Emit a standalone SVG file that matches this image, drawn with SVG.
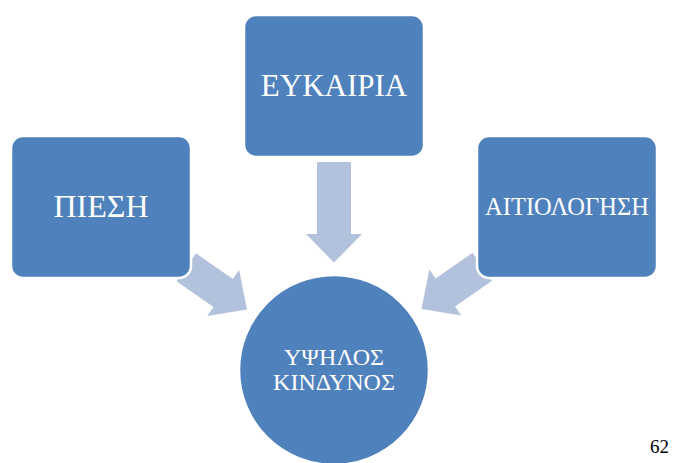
<svg xmlns="http://www.w3.org/2000/svg" width="686" height="463" viewBox="0 0 686 463">
  <defs>
    <style>
      .node { fill: #4F81BD; stroke: #FFFFFF; stroke-width: 2.5; }
      .arrow { fill: #B2C1DC; stroke: none; }
      .lbl { fill: #FFFFFF; font-family: 'Liberation Serif', 'Times New Roman', serif; text-anchor: middle; }
      .page { fill: #000000; font-family: 'Liberation Serif', 'Times New Roman', serif; }
    </style>
    <polygon id="arr" points="-74,-17 -29,-17 -29,-28 0,0 -29,28 -29,17 -74,17"/>
  </defs>
  <rect width="686" height="463" fill="#FFFFFF"/>
  <g id="connectors">
    <polygon class="arrow" points="317,162 351,162 351,234 362,234 334,262.5 306,234 317,234"/>
    <use href="#arr" class="arrow" transform="translate(247,309.5) rotate(34.8)"/>
    <use href="#arr" class="arrow" transform="translate(421.5,309) rotate(145.2)"/>
  </g>
  <g id="node-piesi">
    <rect class="node" x="11" y="136" width="180" height="142" rx="12"/>
    <text class="lbl" x="101" y="217" font-size="32">ΠΙΕΣΗ</text>
  </g>
  <g id="node-eykairia">
    <rect class="node" x="244" y="15" width="180" height="142" rx="12"/>
    <text class="lbl" x="334" y="96" font-size="31">ΕΥΚΑΙΡΙΑ</text>
  </g>
  <g id="node-aitiologisi">
    <rect class="node" x="477" y="136" width="180" height="142" rx="12"/>
    <text class="lbl" x="567" y="215" font-size="24.5">ΑΙΤΙΟΛΟΓΗΣΗ</text>
  </g>
  <g id="node-kindynos">
    <circle class="node" cx="334" cy="370" r="95"/>
    <text class="lbl" x="334" y="365" font-size="24">ΥΨΗΛΟΣ</text>
    <text class="lbl" x="334" y="390" font-size="24">ΚΙΝΔΥΝΟΣ</text>
  </g>
  <text class="page" x="650" y="453" font-size="19">62</text>
</svg>
